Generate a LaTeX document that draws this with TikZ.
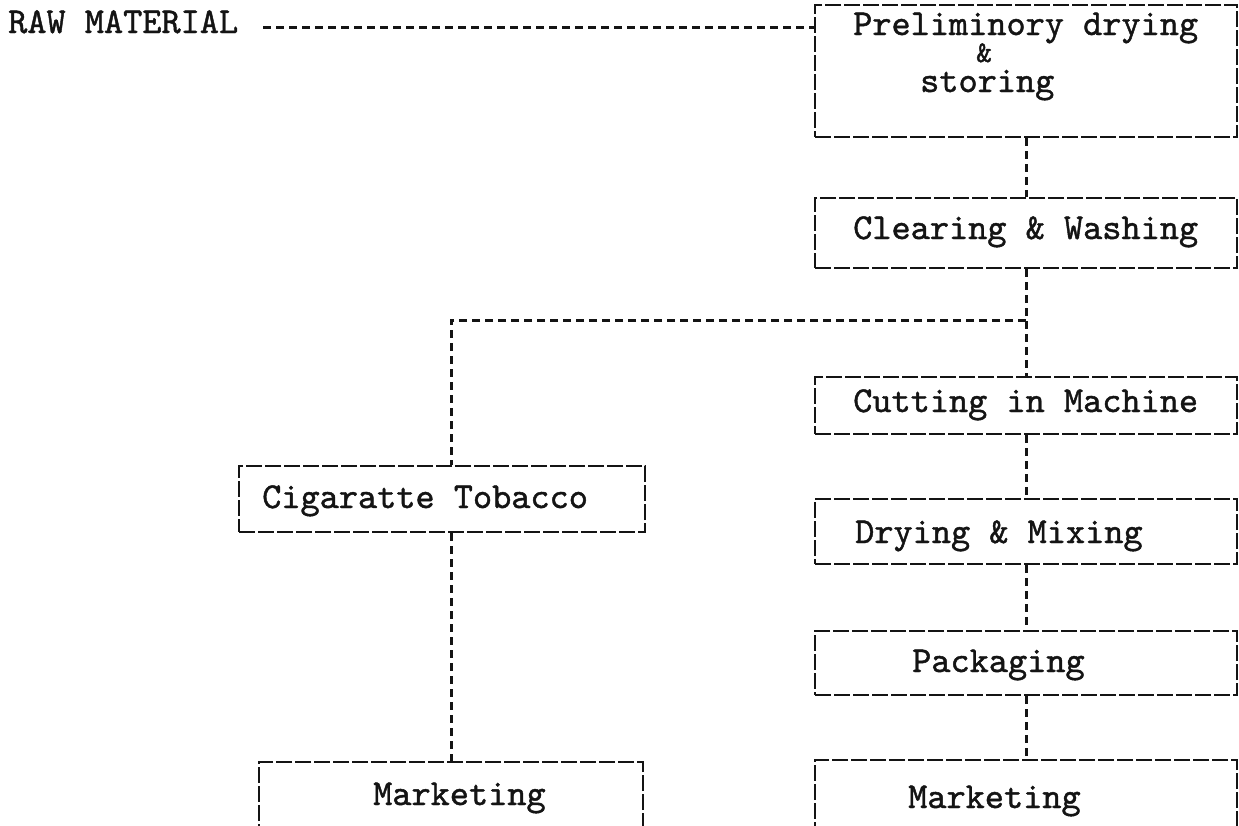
\documentclass[tikz,border=0pt]{standalone}
\usepackage{fontspec}
\definecolor{ink}{gray}{0.08}
\newfontfamily\typeface{lmmono10-regular.otf}[FakeBold=1.2]
\newcommand{\typewritten}{\typeface\fontsize{36.5}{40}\selectfont}
\newcommand{\typesmall}{\typeface\fontsize{30}{32}\selectfont}
\begin{document}
\begin{tikzpicture}[x=1pt,y=-1pt,
  box/.style={draw=ink, line width=2.8pt, dash pattern=on 16pt off 3pt,
    rectangle, inner sep=0pt},
  link/.style={draw=ink, line width=3pt, dash pattern=on 8pt off 5pt},
  txt/.style={font=\typewritten, text=ink, inner sep=0pt, anchor=base west}]

% page frame
\fill[white] (0,0) rectangle (1239,825);
\useasboundingbox (0,0) rectangle (1239,825);
\clip (0,0) rectangle (1239,825);

% process boxes
\node[box, minimum width=422pt, minimum height=132pt] (prelim) at (1026,71) {};
\node[box, minimum width=422pt, minimum height=70pt]  (clear)  at (1026,233) {};
\node[box, minimum width=422pt, minimum height=57pt]  (cut)    at (1026,405.5) {};
\node[box, minimum width=422pt, minimum height=65pt]  (dry)    at (1026,531.5) {};
\node[box, minimum width=422pt, minimum height=64pt]  (pack)   at (1026,663) {};
\node[box, minimum width=422pt, minimum height=120pt] (mkt2)   at (1026,820) {};
\node[box, minimum width=406pt, minimum height=66pt]  (cig)    at (442,499) {};
\node[box, minimum width=384pt, minimum height=120pt] (mkt1)   at (451,822) {};

% typed labels
\node[txt] (rawtxt)   at (8,33)    {RAW MATERIAL};
\node[txt] (prelimA)  at (853,35)  {Preliminory drying};
\node[txt, font=\typesmall] (prelimB) at (976,62) {\&};
\node[txt] (prelimC)  at (920,92)  {storing};
\node[txt] (cleartxt) at (853,239) {Clearing \& Washing};
\node[txt] (cuttxt)   at (853,412) {Cutting in Machine};
\node[txt] (drytxt)   at (855,543) {Drying \& Mixing};
\node[txt] (packtxt)  at (912,672) {Packaging};
\node[txt] (mkt2txt)  at (908,808) {Marketing};
\node[txt] (cigtxt)   at (262,508) {Cigaratte Tobacco};
\node[txt] (mkt1txt)  at (373,805) {Marketing};

% connectors
\coordinate (rawend) at (263,27);
\draw[link] (rawend) -- (rawend -| prelim.west);
\draw[link] (prelim.south) -- (clear.north);
\draw[link] (clear.south) -- (cut.north);
\draw[link] (cut.south) -- (dry.north);
\draw[link] (dry.south) -- (pack.north);
\draw[link] (pack.south) -- (mkt2.north);
\coordinate (fork) at (1026,320);
\draw[link] (fork) -| (mkt1.north |- cig.north);
\draw[link] (mkt1.north |- cig.south) -- (mkt1.north);
\end{tikzpicture}
\end{document}
